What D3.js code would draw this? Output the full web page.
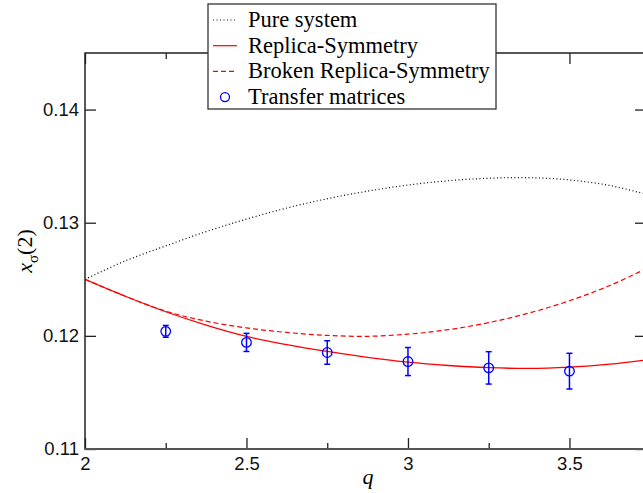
<!DOCTYPE html>
<html>
<head>
<meta charset="utf-8">
<script src="https://cdn.jsdelivr.net/npm/d3@7"></script>
<style>
    body { margin: 0; background: #fff; }
    .tick text { font-family: "Liberation Sans", Arial, sans-serif; font-size: 18.5px; fill: #111; }
    .tick line { stroke: #222; stroke-width: 1.3px; }
    .legend text { font-family: "Liberation Serif", "Times New Roman", serif; font-size: 22.5px; fill: #000; }
</style>
</head>
<body>
<div id="chart"></div>
<script>
    var qGrid = [2, 2.125, 2.25, 2.375, 2.5, 2.625, 2.75, 2.875, 3, 3.125, 3.25, 3.375, 3.5, 3.625, 3.75];
    var pureSystem = [0.1250, 0.12663, 0.12795, 0.12921, 0.13032, 0.13130, 0.13212, 0.13279, 0.13333,
        0.13371, 0.13393, 0.13398, 0.13378, 0.13329, 0.13242];
    var replicaSym = [0.1250, 0.12350, 0.12213, 0.12095, 0.11995, 0.11922, 0.11862, 0.11810, 0.11767,
        0.11738, 0.11719, 0.11712, 0.11724, 0.11750, 0.11792];
    var brokenRS = [0.1250, 0.12350, 0.12218, 0.12130, 0.12070, 0.12030, 0.12004, 0.11996, 0.12015,
        0.12055, 0.12117, 0.12202, 0.12310, 0.12445, 0.12610];

    // transfer matrix points
    var tmQ = [2.25, 2.5, 2.75, 3.0, 3.25, 3.5];
    var tmX = [0.1204, 0.11942, 0.11853, 0.11773, 0.11717, 0.11688];
    var tmErr = [0.00052, 0.0008, 0.00104, 0.00124, 0.00143, 0.00158];

    var xMajor = [2, 2.5, 3, 3.5];
    var xMinor = [2.25, 2.75, 3.25, 3.75];
    var yTicks = [0.11, 0.12, 0.13, 0.14];

    var legendLabels = ["Pure system", "Replica-Symmetry", "Broken Replica-Symmetry", "Transfer matrices"];

    var width = 643, height = 493;
    var plot = { left: 85, right: 646, top: 53, bottom: 449 };

    var svg = d3.select("#chart").append("svg")
        .attr("width", width)
        .attr("height", height);

    var x = d3.scaleLinear().domain([2, 3.737]).range([plot.left, plot.right]);
    var y = d3.scaleLinear().domain([0.11, 0.145]).range([plot.bottom, plot.top]);

    svg.append("clipPath").attr("id", "clip")
        .append("rect")
        .attr("x", plot.left).attr("y", plot.top)
        .attr("width", plot.right - plot.left).attr("height", plot.bottom - plot.top);

    // curves
    var line = function (vals) {
        return d3.line()
            .x(function (d, i) { return x(qGrid[i]); })
            .y(function (d) { return y(d); })
            .curve(d3.curveCatmullRom)(vals);
    };
    var curves = svg.append("g").attr("clip-path", "url(#clip)");
    curves.append("path").attr("d", line(pureSystem))
        .attr("fill", "none").attr("stroke", "#000").attr("stroke-width", 1.2)
        .attr("stroke-dasharray", "1,2.5");
    curves.append("path").attr("d", line(brokenRS))
        .attr("fill", "none").attr("stroke", "#ff0000").attr("stroke-width", 1.2)
        .attr("stroke-dasharray", "5,3");
    curves.append("path").attr("d", line(replicaSym))
        .attr("fill", "none").attr("stroke", "#ff0000").attr("stroke-width", 1.3);

    // transfer matrices with error bars
    var pts = svg.append("g").selectAll("g").data(tmQ).enter().append("g");
    pts.append("line")
        .attr("x1", function (d) { return x(d); }).attr("x2", function (d) { return x(d); })
        .attr("y1", function (d, i) { return y(tmX[i] - tmErr[i]); })
        .attr("y2", function (d, i) { return y(tmX[i] + tmErr[i]); })
        .attr("stroke", "#0000ff").attr("stroke-width", 1.5);
    [-1, 1].forEach(function (s) {
        pts.append("line")
            .attr("x1", function (d) { return x(d) - 3; }).attr("x2", function (d) { return x(d) + 3; })
            .attr("y1", function (d, i) { return y(tmX[i] + s * tmErr[i]); })
            .attr("y2", function (d, i) { return y(tmX[i] + s * tmErr[i]); })
            .attr("stroke", "#0000ff").attr("stroke-width", 1.5);
    });
    pts.append("circle")
        .attr("cx", function (d) { return x(d); })
        .attr("cy", function (d, i) { return y(tmX[i]); })
        .attr("r", 4.8)
        .attr("fill", "none").attr("stroke", "#0000ff").attr("stroke-width", 1.3);

    // axes
    var gx = svg.append("g").attr("transform", "translate(0," + plot.bottom + ")")
        .call(d3.axisBottom(x).tickValues(xMajor).tickSizeInner(-11).tickSizeOuter(0)
            .tickPadding(7).tickFormat(function (d) { return d; }));
    svg.append("g").attr("transform", "translate(0," + plot.bottom + ")")
        .call(d3.axisBottom(x).tickValues(xMinor).tickSizeInner(-6).tickSizeOuter(0).tickFormat(""));
    svg.append("g").attr("transform", "translate(0," + plot.top + ")")
        .call(d3.axisTop(x).tickValues(xMajor).tickSizeInner(-11).tickSizeOuter(0).tickFormat(""));
    svg.append("g").attr("transform", "translate(0," + plot.top + ")")
        .call(d3.axisTop(x).tickValues(xMinor).tickSizeInner(-6).tickSizeOuter(0).tickFormat(""));
    svg.append("g").attr("transform", "translate(" + plot.left + ",0)")
        .call(d3.axisLeft(y).tickValues(yTicks).tickSizeInner(-11).tickSizeOuter(0)
            .tickPadding(6).tickFormat(d3.format(".2f")));
    svg.append("g").attr("transform", "translate(" + plot.right + ",0)")
        .call(d3.axisRight(y).tickValues(yTicks).tickSizeInner(-11).tickSizeOuter(0).tickFormat(""));
    svg.selectAll(".domain").remove();
    gx.selectAll("text").attr("dy", "0.75em");

    // frame
    svg.append("rect")
        .attr("x", plot.left).attr("y", plot.top)
        .attr("width", plot.right - plot.left).attr("height", plot.bottom - plot.top)
        .attr("fill", "none").attr("stroke", "#222").attr("stroke-width", 1.5);
    svg.append("line")
        .attr("x1", plot.left).attr("x2", plot.right)
        .attr("y1", plot.bottom).attr("y2", plot.bottom)
        .attr("stroke", "#555").attr("stroke-width", 2.2);

    // axis titles
    svg.append("text")
        .attr("x", 368).attr("y", 484)
        .attr("text-anchor", "middle")
        .style("font-family", "'Liberation Serif', 'Times New Roman', serif")
        .style("font-style", "italic")
        .style("font-size", "22px")
        .text("q");
    var yt = svg.append("text")
        .attr("transform", "translate(32,251) rotate(-90)")
        .attr("text-anchor", "middle")
        .style("font-family", "'Liberation Serif', 'Times New Roman', serif")
        .style("font-size", "22px");
    yt.append("tspan").style("font-style", "italic").text("x");
    yt.append("tspan").attr("dy", 6).style("font-size", "15px").text("σ");
    yt.append("tspan").attr("dy", -6).text("(2)");

    // legend
    var legend = svg.append("g").attr("class", "legend");
    legend.append("rect")
        .attr("x", 208).attr("y", 4).attr("width", 288).attr("height", 105)
        .attr("fill", "#fff").attr("stroke", "#333").attr("stroke-width", 1.3);
    var rows = legend.selectAll("g.row").data(legendLabels).enter().append("g")
        .attr("class", "row")
        .attr("transform", function (d, i) { return "translate(0," + (20 + i * 25.7) + ")"; });
    rows.append("text").attr("x", 248).attr("y", 7).text(function (d) { return d; });
    var sampleStyle = [
        { stroke: "#000", dash: "1,2.5" },
        { stroke: "#ff0000", dash: null },
        { stroke: "#ff0000", dash: "5,3" }
    ];
    rows.filter(function (d, i) { return i < 3; }).append("line")
        .attr("x1", 213).attr("x2", 237).attr("y1", 0).attr("y2", 0)
        .attr("stroke", function (d, i) { return sampleStyle[i].stroke; })
        .attr("stroke-width", 1.2)
        .attr("stroke-dasharray", function (d, i) { return sampleStyle[i].dash; });
    rows.filter(function (d, i) { return i === 3; }).append("circle")
        .attr("cx", 225).attr("cy", 0).attr("r", 4.5)
        .attr("fill", "none").attr("stroke", "#0000ff").attr("stroke-width", 1.3);
</script>
</body>
</html>
